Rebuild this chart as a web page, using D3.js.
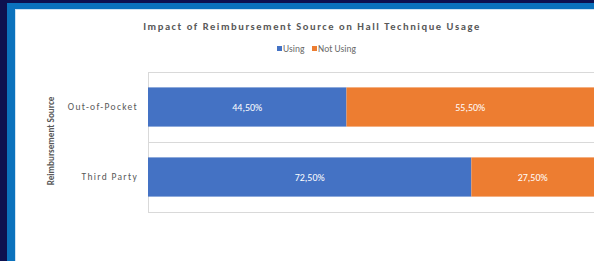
<!DOCTYPE html>
<html><head><meta charset="utf-8">
<script src="https://cdn.jsdelivr.net/npm/d3@7"></script>
<style>
html,body{margin:0;padding:0;background:#0e1150;overflow:hidden}
text{font-family:Calibri,"Carlito","Open Sans","Liberation Sans",sans-serif}
</style></head>
<body><svg id="c" width="594" height="261"></svg>
<script>
const categories = ["Out-of-Pocket", "Third Party"];
const seriesNames = ["Using", "Not Using"];
const usingValues = [44.5, 72.5];
const notUsingValues = [55.5, 27.5];
const colors = ["#4472c4", "#ed7d31"];
const title = "Impact of Reimbursement Source on Hall Technique Usage";
const yTitle = "Reimbursement Source";

const svg = d3.select("#c");
// slide frame
svg.append("rect").attr("x",0).attr("y",0).attr("width",594).attr("height",261).attr("fill","#0e1150");
svg.append("rect").attr("x",7).attr("y",3).attr("width",600).attr("height",270).attr("fill","#0b72bd");
svg.append("rect").attr("x",15).attr("y",9).attr("width",600).attr("height",270).attr("fill","#cfe3f3");
svg.append("rect").attr("x",16).attr("y",10).attr("width",600).attr("height",270).attr("fill","#ffffff");

const plot = {left:148, right:594, top:72, bottom:212};
const x = d3.scaleLinear().domain([0,100]).range([plot.left, plot.right]);
const y = d3.scaleBand().domain(categories).range([plot.top, plot.bottom]).paddingInner(0.44).paddingOuter(0.22);

// gridlines
const grid = svg.append("g");
[plot.top, (plot.top+plot.bottom)/2, plot.bottom].forEach(v=>{
  grid.append("line").attr("x1",plot.left).attr("x2",594).attr("y1",v).attr("y2",v)
   .attr("stroke","#d9d9d9").attr("stroke-width",1).attr("shape-rendering","crispEdges");
});
grid.append("line").attr("x1",plot.left).attr("x2",plot.left).attr("y1",plot.top).attr("y2",plot.bottom)
  .attr("stroke","#d9d9d9").attr("stroke-width",1).attr("shape-rendering","crispEdges");

const data = categories.map((c,i)=>({cat:c, Using:usingValues[i], "Not Using":notUsingValues[i]}));
const stacked = d3.stack().keys(seriesNames)(data);
const fmt = v => d3.format(".2f")(v).replace(".", ",") + "%";

stacked.forEach((s,si)=>{
  const g = svg.append("g");
  g.selectAll("rect").data(s).join("rect")
    .attr("x", d=>x(d[0])).attr("width", d=>x(d[1])-x(d[0]))
    .attr("y", d=>y(d.data.cat)).attr("height", y.bandwidth())
    .attr("fill", colors[si]);
  g.selectAll("text").data(s).join("text")
    .attr("x", d=>(x(d[0])+x(d[1]))/2).attr("y", d=>y(d.data.cat)+y.bandwidth()/2+3.5)
    .attr("text-anchor","middle").attr("fill","#ffffff").attr("font-size",10)
    .text(d=>fmt(d[1]-d[0]));
});

// category labels
const yAxis = d3.axisLeft(y).tickSize(0).tickPadding(10);
const ya = svg.append("g").attr("transform",`translate(${plot.left},0)`).call(yAxis);
ya.select(".domain").remove();
ya.selectAll("text").attr("font-size",9.5).attr("fill","#595959").attr("letter-spacing",1.3)
  .attr("font-family","Calibri,Carlito,'Open Sans',sans-serif");

// title
svg.append("text").attr("x",312).attr("y",30).attr("text-anchor","middle")
  .attr("font-size",10.5).attr("font-weight","bold").attr("fill","#595959").attr("letter-spacing",1.55)
  .text(title);

// y title
svg.append("text").attr("transform","translate(54,141) rotate(-90)").attr("text-anchor","middle")
  .attr("font-size",9.2).attr("font-weight","bold").attr("fill","#595959").text(yTitle);

// legend
const legend = svg.append("g");
const legendItems = [{name:seriesNames[0], x:277, c:colors[0]},{name:seriesNames[1], x:312, c:colors[1]}];
legendItems.forEach(it=>{
  legend.append("rect").attr("x",it.x).attr("y",46).attr("width",5).attr("height",5).attr("fill",it.c);
  legend.append("text").attr("x",it.x+6).attr("y",52).attr("font-size",9.5).attr("fill","#6a6a6a").text(it.name);
});
</script></body></html>
